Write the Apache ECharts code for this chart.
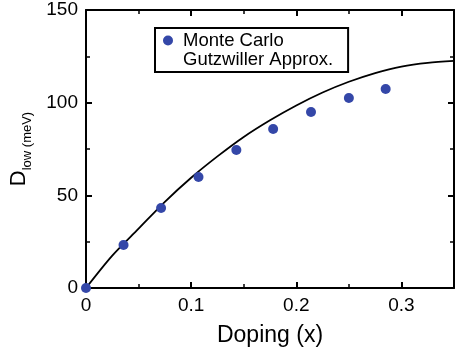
<!DOCTYPE html>
<html>
<head>
<meta charset="utf-8">
<script src="https://cdn.jsdelivr.net/npm/echarts@6/dist/echarts.min.js"></script>
<style>
html, body { margin: 0; padding: 0; background: #fff; }
#myChart { width: 457px; height: 354px; }
</style>
</head>
<body>
<div id="myChart"></div>
<script>
// Monte Carlo points (doping x, D_low in meV)
var mcX = [0, 0.0357, 0.0714, 0.107, 0.143, 0.178, 0.214, 0.25, 0.285];
var mcY = [0, 23.2, 43.2, 59.9, 74.5, 85.8, 95, 102.5, 107.4];
// Gutzwiller curve
var gzX = [0, 0.025, 0.05, 0.075, 0.1, 0.125, 0.15, 0.175, 0.2, 0.225, 0.25, 0.275, 0.3, 0.325, 0.35];
var gzY = [0, 17.5, 32, 46.5, 59.5, 71, 81.5, 90.5, 98.5, 105.5, 111.3, 116, 119.5, 121.5, 122.5];
// tick labels
var xTicks = [0, 0.1, 0.2, 0.3];
var yTicks = [0, 50, 100, 150];

var chartDom = document.getElementById('myChart');
var myChart = echarts.init(chartDom);
var font = 'Liberation Sans, Arial, Helvetica, sans-serif';

var mcData = mcX.map(function (x, i) { return [x, mcY[i]]; });
var gzData = gzX.map(function (x, i) { return [x, gzY[i]]; });

var frameAxis = {
  axisLine: { show: true, onZero: false, lineStyle: { color: '#000', width: 2 } },
  axisTick: { show: true, inside: true, length: 6, lineStyle: { color: '#000', width: 2 } },
  minorTick: { show: true, splitNumber: 2, length: 4, lineStyle: { color: '#000', width: 1.5 } },
  splitLine: { show: false },
  minorSplitLine: { show: false }
};

var option = {
  animation: false,
  textStyle: { fontFamily: font },
  grid: { left: 84, right: 3, top: 10, bottom: 66 },
  legend: {
    orient: 'vertical',
    left: 155,
    top: 28,
    padding: [3, 15, 3, 3],
    itemGap: 0,
    itemWidth: 20,
    itemHeight: 10,
    borderColor: '#000',
    borderWidth: 2,
    borderRadius: 0,
    textStyle: { fontFamily: font, fontSize: 18.5, color: '#000' },
    data: [
      { name: 'Monte Carlo', icon: 'circle' },
      { name: 'Gutzwiller Approx.', icon: 'rect', itemStyle: { opacity: 0 } }
    ]
  },
  xAxis: [
    Object.assign({
      type: 'value', min: 0, max: 0.35, interval: 0.1, position: 'bottom',
      name: 'Doping (x)', nameLocation: 'middle', nameGap: 36,
      nameTextStyle: { fontFamily: font, fontSize: 23, color: '#000' },
      axisLabel: {
        fontFamily: font, fontSize: 19, color: '#000', margin: 8,
        formatter: function (v) {
          for (var i = 0; i < xTicks.length; i++) {
            if (Math.abs(v - xTicks[i]) < 1e-6) return String(xTicks[i]);
          }
          return '';
        }
      }
    }, frameAxis),
    Object.assign({
      type: 'value', min: 0, max: 0.35, interval: 0.1, position: 'top',
      axisLabel: { show: false }
    }, frameAxis)
  ],
  yAxis: [
    Object.assign({
      type: 'value', min: 0, max: 150, interval: 50, position: 'left',
      name: '{d|D}{s|low (meV)}', nameLocation: 'middle', nameGap: 52, nameRotate: 90,
      nameTextStyle: {
        color: '#000',
        rich: {
          d: { fontFamily: font, fontSize: 22, lineHeight: 26, verticalAlign: 'top', color: '#000' },
          s: { fontFamily: font, fontSize: 13, lineHeight: 13, verticalAlign: 'bottom', color: '#000' }
        }
      },
      axisLabel: {
        fontFamily: font, fontSize: 19, color: '#000', margin: 8,
        formatter: function (v) {
          return yTicks.indexOf(v) >= 0 ? String(v) : '';
        }
      }
    }, frameAxis),
    Object.assign({
      type: 'value', min: 0, max: 150, interval: 50, position: 'right',
      axisLabel: { show: false }
    }, frameAxis)
  ],
  series: [
    {
      name: 'Gutzwiller Approx.',
      type: 'line',
      data: gzData,
      smooth: 0.3,
      showSymbol: false,
      lineStyle: { color: '#000', width: 1.8 },
      itemStyle: { color: '#000' },
      z: 2
    },
    {
      name: 'Monte Carlo',
      type: 'scatter',
      data: mcData,
      symbol: 'circle',
      symbolSize: 10,
      clip: false,
      itemStyle: { color: '#3447a8', opacity: 1 },
      z: 3
    }
  ]
};
option && myChart.setOption(option);
window.addEventListener('resize', function () {
  myChart.resize();
});
</script>
</body>
</html>
